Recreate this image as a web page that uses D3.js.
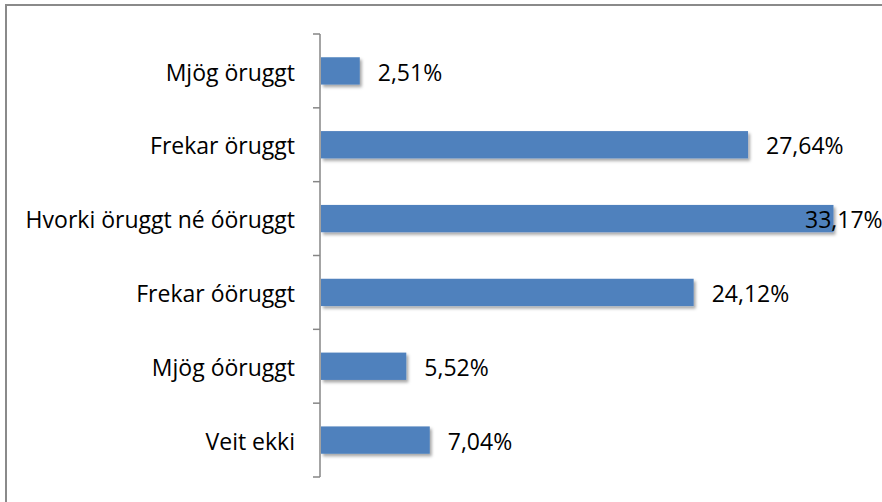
<!DOCTYPE html>
<html>
<head>
<meta charset="utf-8">
<script src="https://cdn.jsdelivr.net/npm/d3@7"></script>
<style>
  body { margin: 0; background: #fff; }
  svg { display: block; font-family: "Open Sans", sans-serif; }
</style>
</head>
<body>
<div id="chart"></div>
<script>
var categories = ["Mjög öruggt", "Frekar öruggt", "Hvorki öruggt né óöruggt", "Frekar óöruggt", "Mjög óöruggt", "Veit ekki"];
var values = [2.51, 27.64, 33.17, 24.12, 5.52, 7.04];
var labels = ["2,51%", "27,64%", "33,17%", "24,12%", "5,52%", "7,04%"];

var svgWidth = 882;
var svgHeight = 502;

var margin = { top: 34, right: 20, bottom: 25, left: 320 };
var height = svgHeight - margin.top - margin.bottom;

var svg = d3.select("#chart")
  .append("svg")
  .attr("width", svgWidth)
  .attr("height", svgHeight);

// drop shadow like the office chart
var defs = svg.append("defs");
defs.append("filter")
  .attr("id", "shadow")
  .attr("x", "-10%").attr("y", "-30%")
  .attr("width", "130%").attr("height", "180%")
  .append("feDropShadow")
  .attr("dx", 2).attr("dy", 2.5)
  .attr("stdDeviation", 1.5)
  .attr("flood-color", "#000")
  .attr("flood-opacity", 0.35);

// outer border (right/bottom run off the picture)
svg.append("rect")
  .attr("x", 6).attr("y", 5)
  .attr("width", 1000).attr("height", 1000)
  .attr("fill", "none")
  .attr("stroke", "#8a8a8a")
  .attr("stroke-width", 2);

var chartGroup = svg.append("g")
  .attr("transform", `translate(${margin.left}, ${margin.top})`);

var yScale = d3.scaleBand()
  .domain(categories)
  .range([0, height])
  .paddingInner(0.63)
  .paddingOuter(0.315);

var xScale = d3.scaleLinear()
  .domain([0, 35])
  .range([0, 35 * 15.45]);

var fontSize = 23;

// category labels
var yAxis = d3.axisLeft(yScale).tickSize(0).tickPadding(25);
var axisG = chartGroup.append("g").call(yAxis);
axisG.select(".domain").remove();
axisG.selectAll("text")
  .attr("font-size", fontSize)
  .attr("fill", "#000")
  .attr("dy", "0.42em")
  .attr("font-family", "'Open Sans', sans-serif");

// axis line and boundary ticks
var bounds = d3.range(categories.length + 1).map(function(i) { return i * yScale.step(); });
chartGroup.append("line")
  .attr("x1", 0).attr("x2", 0)
  .attr("y1", 0).attr("y2", height)
  .attr("stroke", "#868686")
  .attr("stroke-width", 1.5);
chartGroup.selectAll(".btick")
  .data(bounds)
  .enter()
  .append("line")
  .attr("class", "btick")
  .attr("x1", -7).attr("x2", 0)
  .attr("y1", d => d).attr("y2", d => d)
  .attr("stroke", "#868686")
  .attr("stroke-width", 1.5);

// bars
chartGroup.selectAll(".bar")
  .data(values)
  .enter()
  .append("rect")
  .attr("class", "bar")
  .attr("x", 1)
  .attr("y", (d, i) => yScale(categories[i]))
  .attr("width", d => xScale(d))
  .attr("height", yScale.bandwidth())
  .attr("fill", "#4f81bd")
  .attr("filter", "url(#shadow)");

// value labels; the last one gets pushed back inside the plot area
var labelMax = 485;
chartGroup.selectAll(".vlabel")
  .data(values)
  .enter()
  .append("text")
  .attr("class", "vlabel")
  .attr("x", d => Math.min(xScale(d) + 19, labelMax))
  .attr("y", (d, i) => yScale(categories[i]) + yScale.bandwidth() / 2)
  .attr("dy", "0.42em")
  .attr("font-size", fontSize)
  .attr("fill", "#000")
  .text((d, i) => labels[i]);
</script>
</body>
</html>
